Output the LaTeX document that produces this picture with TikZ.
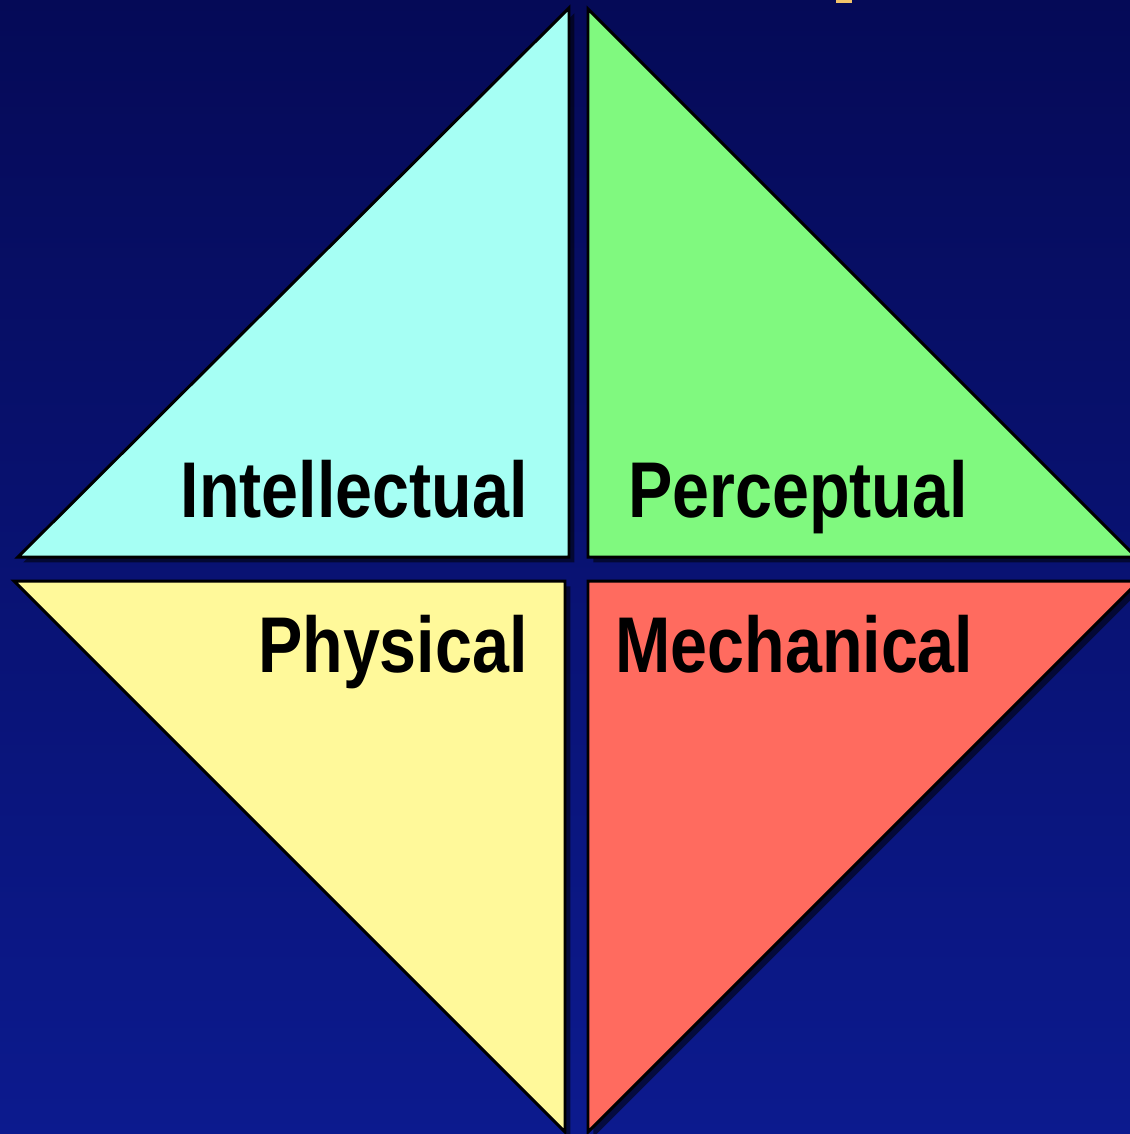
\documentclass[tikz,border=0pt]{standalone}
\usepackage{fontspec}
\newfontfamily\quadfont[FakeStretch=0.84]{Liberation Sans}
\usepackage{tikz}
\usetikzlibrary{shadows}
\definecolor{nachtblau}{HTML}{050A57}
\definecolor{tiefblau}{HTML}{0C1A8E}
\definecolor{intell}{HTML}{A6FFF4}
\definecolor{perzept}{HTML}{80F97F}
\definecolor{physis}{HTML}{FFF99A}
\definecolor{mechan}{HTML}{FF6B5F}
\definecolor{spitze}{HTML}{F2C46A}

\begin{document}
\begin{tikzpicture}[
        x=0.02cm, y=-0.02cm,
        quarter/.style={draw=black, line width=1.7pt, line join=miter,
                        drop shadow={shadow xshift=3pt, shadow yshift=-3pt,
                                     opacity=0.55, fill=black}},
        label/.style={font=\quadfont\bfseries\fontsize{45}{54}\selectfont,
                      text=black, inner sep=0pt}
      ]
      \useasboundingbox (0,0) rectangle (1130,1134);
      \clip (0,0) rectangle (1130,1134);
      \shade[top color=nachtblau, bottom color=tiefblau] (0,0) rectangle (1130,1134);
      \fill[spitze] (836,0) rectangle (852,2.5);

      % upper half
      \coordinate (iTop) at (569,8);
      \coordinate (iL)   at (18,557);
      \coordinate (iR)   at (569,557);
      \coordinate (pTop) at (588,9);
      \coordinate (pL)   at (588,557);
      \coordinate (pR)   at (1136,557);
      % lower half
      \coordinate (yL)   at (14,581);
      \coordinate (yR)   at (565,581);
      \coordinate (yBot) at (565,1132);
      \coordinate (mL)   at (588,581);
      \coordinate (mR)   at (1139,581);
      \coordinate (mBot) at (588,1132);

      \filldraw[quarter, fill=intell]  (iTop) -- (iR) -- (iL) -- cycle;
      \filldraw[quarter, fill=perzept] (pTop) -- (pR) -- (pL) -- cycle;
      \filldraw[quarter, fill=physis]  (yL) -- (yR) -- (yBot) -- cycle;
      \filldraw[quarter, fill=mechan]  (mL) -- (mR) -- (mBot) -- cycle;

      \node[label, anchor=base east] (intellectual) at (528,517) {Intellectual};
      \node[label, anchor=base west] (perceptual)   at (628,517) {Perceptual};
      \node[label, anchor=base east] (physical)     at (528,672) {Physical};
      \node[label, anchor=base west] (mechanical)   at (615,672) {Mechanical};
    \end{tikzpicture}
\end{document}
